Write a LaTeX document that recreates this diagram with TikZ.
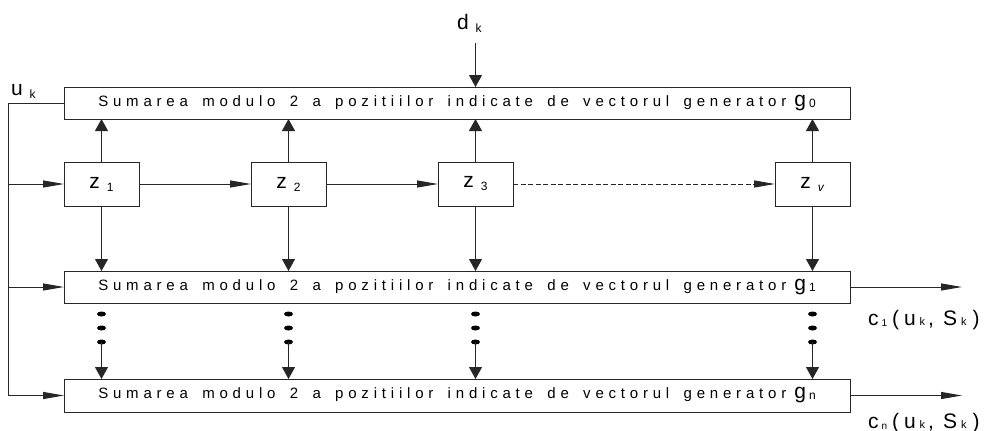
\documentclass[tikz,border=0pt]{standalone}
\usepackage{fontspec}
\setmainfont{Liberation Sans}
\newfontfamily\spaced[LetterSpace=32,WordSpace=1.6]{Liberation Sans}
\usetikzlibrary{arrows.meta,calc}
\newcommand{\bigf}{\fontsize{21}{21}\selectfont}
\newcommand{\smf}{\fontsize{12}{12}\selectfont}
\newcommand{\lbl}[2]{{\bigf #1}\hspace{7pt}\raisebox{-3pt}{\smf #2}}
\newcommand{\sumtext}[1]{{\spaced\fontsize{15}{15}\selectfont Sumarea modulo 2 a pozitiilor indicate de vectorul generator}\hspace{8pt}{\fontsize{21}{21}\selectfont g}\hspace{3pt}\raisebox{-1pt}{\smf #1}}
\newcommand{\outlbl}[1]{{\bigf c}\hspace{3pt}\raisebox{-1pt}{\fontsize{10}{10}\selectfont #1}\hspace{5pt}{\bigf (}\hspace{5pt}{\bigf u}\hspace{4pt}{\fontsize{11}{11}\selectfont k}\hspace{3pt}{\bigf ,}\hspace{9pt}{\bigf S}\hspace{4pt}{\fontsize{11}{11}\selectfont k}\hspace{6pt}{\bigf )}}
\tikzset{
  ln/.style={line width=1pt, draw=black!85},
  bx/.style={ln, rectangle, inner sep=0pt, outer sep=0pt},
  wide/.style={bx, minimum width=786pt, minimum height=32pt},
  zb/.style={bx, minimum width=75pt, minimum height=44pt},
  va/.style={ln, -{Triangle[length=12pt,width=13pt]}},
  ha/.style={ln, -{Triangle[length=21pt,width=7pt]}},
  lab/.style={anchor=base west, inner sep=0pt, outer sep=0pt},
  dotm/.style={fill=black}
}
\begin{document}
\begin{tikzpicture}[x=1pt,y=-1pt]
\useasboundingbox (0,0) rectangle (988,431);
% wide boxes
\node[wide] (g0) at (457,103) {\sumtext{0}};
\node[wide] (g1) at (457,287) {\sumtext{1}};
\node[wide, minimum height=33pt] (gn) at (457,395.5) {\sumtext{n}};
% delay cells
\node[zb] (z1) at (101.5,184) {\lbl{z}{1}};
\node[zb] (z2) at (288.5,184) {\lbl{z}{2}};
\node[zb] (z3) at (475.5,184) {\lbl{z}{3}};
\node[zb] (zv) at (812.5,184) {\lbl{z}{\textit{v}}};
% labels
\node[lab] (uk) at (11,95) {\lbl{u}{k}};
\node[lab] (dklab) at (457,29) {\lbl{d}{k}};
\node[lab] (c1) at (868,325) {\outlbl{1}};
\node[lab] (cn) at (868,428) {\outlbl{n}};
% coordinates
\coordinate (dk) at (475.5,43);
\coordinate (L0) at (8,103);
\coordinate (o1) at (962,287);
\coordinate (on) at (962,395.5);
% d_k input
\draw[va] (dk) -- (dk |- g0.north);
% shift register
\draw[ha] (z1.east) -- (z2.west);
\draw[ha] (z2.east) -- (z3.west);
\draw[ha, dash pattern=on 5pt off 2.5pt] (z3.east) -- (zv.west);
% input line u_k
\draw[ln] (g0.west) -- (L0) -- (L0 |- gn.west);
\draw[ha] (L0 |- z1.west) -- (z1.west);
\draw[ha] (L0 |- g1.west) -- (g1.west);
\draw[ha] (L0 |- gn.west) -- (gn.west);
% vertical connections
\foreach \z in {z1,z2,z3,zv}{
  \draw[va] (\z.north) -- (\z.north |- g0.south);
  \draw[va] (\z.south) -- (\z.south |- g1.north);
  \fill[dotm] ($(\z.south |- g1.south)+(0,11)$) ellipse [x radius=4.5pt, y radius=2.5pt];
  \fill[dotm] ($(\z.south |- g1.south)+(0,25)$) ellipse [x radius=4.5pt, y radius=2.5pt];
  \fill[dotm] ($(\z.south |- g1.south)+(0,39)$) ellipse [x radius=4.5pt, y radius=2.5pt];
  \draw[va] ($(\z.south |- g1.south)+(0,39)$) -- (\z.south |- gn.north);
}
% outputs
\draw[ha] (g1.east) -- (o1);
\draw[ha] (gn.east) -- (on);
\end{tikzpicture}
\end{document}
